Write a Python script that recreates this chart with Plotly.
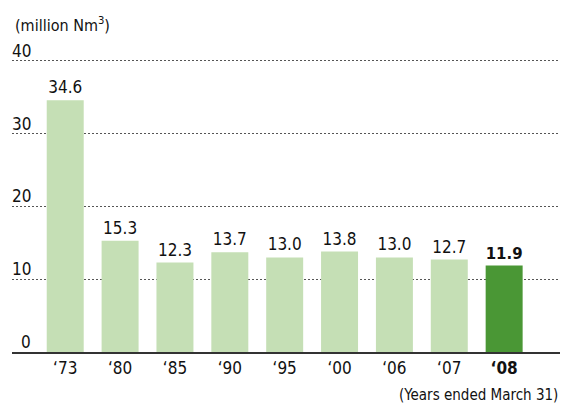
import plotly.graph_objects as go

years = ["\u201873", "\u201880", "\u201885", "\u201890", "\u201895", "\u201800", "\u201806", "\u201807", "\u201808"]
values = [34.6, 15.3, 12.3, 13.7, 13.0, 13.8, 13.0, 12.7, 11.9]
y_ticks = [0, 10, 20, 30, 40]
unit_label = "(million Nm<sup>3</sup>)"
note_label = "(Years ended March 31)"

LIGHT = "#c5dfb5"
DARK = "#4a9735"
FONT = "DejaVu Sans Condensed, Liberation Sans Narrow, Roboto, sans-serif"

n = len(values)
colors = [LIGHT] * (n - 1) + [DARK]
texts = [f"{v:.1f}" for v in values[:-1]] + [f"<b>{values[-1]:.1f}</b>"]
ticktext = years[:-1] + [f"<b>{years[-1]}</b>"]

fig = go.Figure(go.Bar(
    x=list(range(n)), y=values,
    marker=dict(color=colors, line=dict(width=0)),
    text=texts, textposition="outside", cliponaxis=False,
    textfont=dict(family=FONT, size=17, color="#111"),
    width=0.674,
))

annotations = [dict(xref="paper", yref="y", x=0.038, y=t, yshift=10,
                    text=str(t), showarrow=False, xanchor="right", yanchor="middle",
                    font=dict(family=FONT, size=17, color="#111")) for t in y_ticks]
annotations.append(dict(xref="paper", yref="paper", x=0.002, y=1, yshift=30,
                        text=unit_label, showarrow=False, xanchor="left", yanchor="middle",
                        font=dict(family=FONT, size=16, color="#111")))
annotations.append(dict(xref="paper", yref="paper", x=1.0, y=0, yshift=-43,
                        text=note_label, showarrow=False, xanchor="right", yanchor="middle",
                        font=dict(family=FONT, size=15, color="#111")))

fig.update_layout(
    width=569, height=397,
    margin=dict(l=4, r=17, t=46, b=53),
    paper_bgcolor="white", plot_bgcolor="white",
    showlegend=False,
    xaxis=dict(range=[-0.97, 9.018], tickmode="array", tickvals=list(range(n)),
               ticktext=ticktext, showgrid=False, showline=True, linecolor="#333",
               linewidth=2, ticks="", zeroline=False,
               tickfont=dict(family=FONT, size=17, color="#111")),
    yaxis=dict(range=[0, 40.96], tickvals=y_ticks, showticklabels=False,
               showgrid=True, gridcolor="#555", griddash="2px,2px", gridwidth=1,
               zeroline=False, showline=False),
    annotations=annotations,
)
fig.write_html("out.html")
